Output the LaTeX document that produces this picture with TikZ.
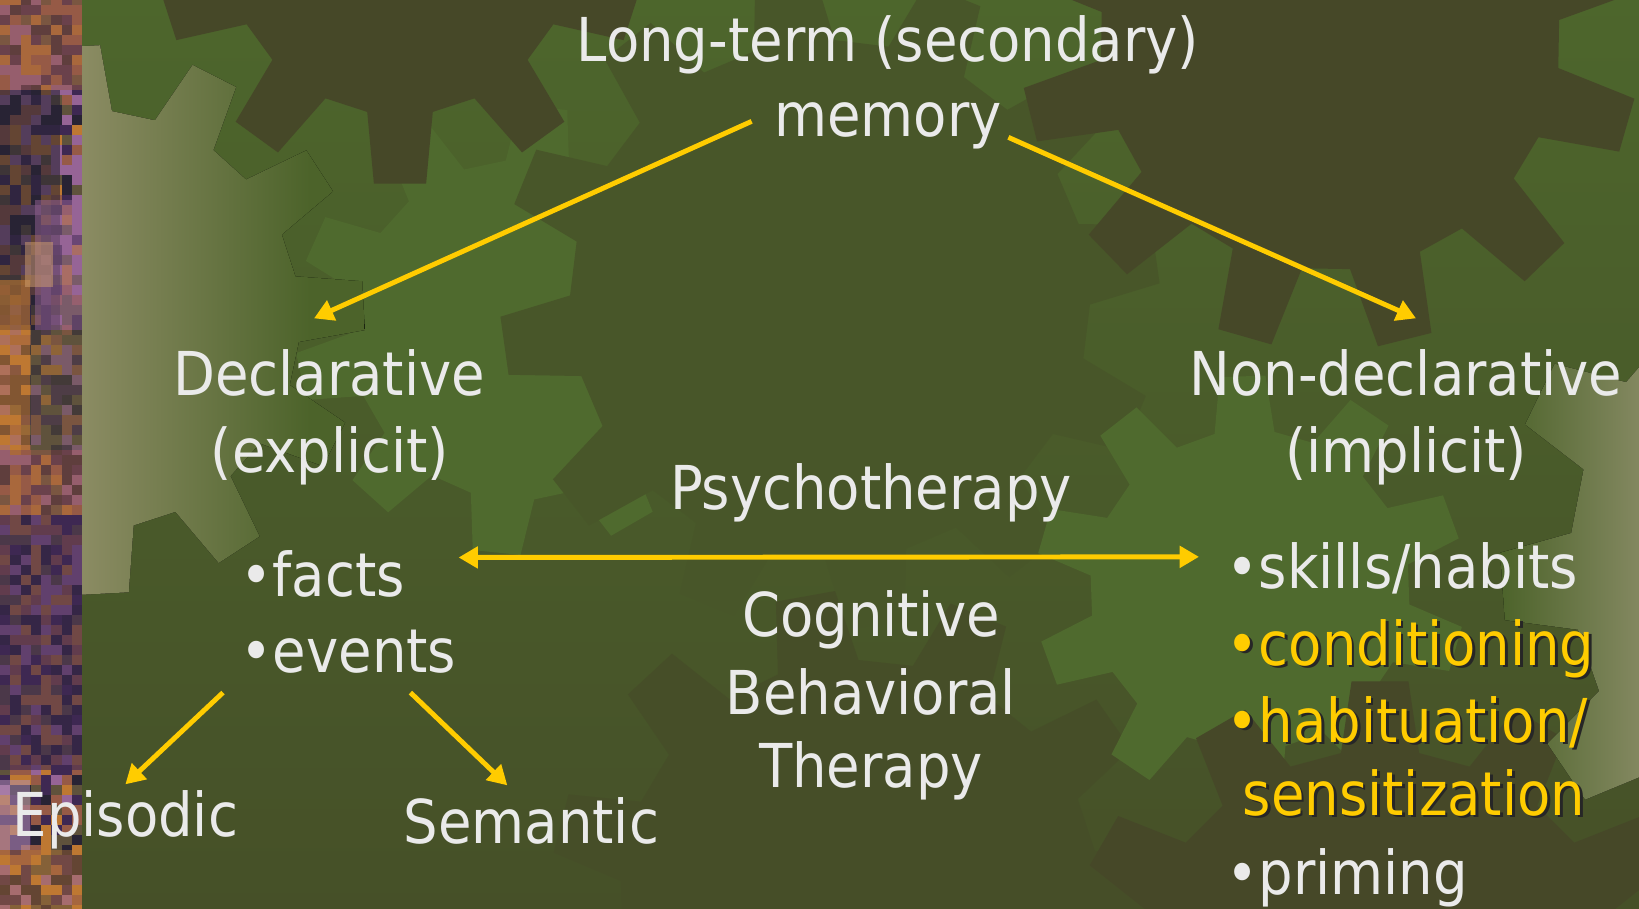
\documentclass[tikz,border=0pt]{standalone}
\usepackage{fontspec}
\setmainfont{DejaVu Sans Condensed}
\usepackage{tikz}
\usetikzlibrary{calc,arrows.meta}
\definecolor{bgtop}{RGB}{77,102,44}
\definecolor{bggreen}{RGB}{76,99,42}
\definecolor{bgbot}{RGB}{70,80,40}
\definecolor{geardark}{RGB}{70,72,40}
\definecolor{gearmid}{RGB}{72,86,41}
\definecolor{gearlow}{RGB}{70,78,40}
\definecolor{gearlight}{RGB}{79,106,46}
\definecolor{gearpale}{RGB}{140,140,100}
\definecolor{gearpaler}{RGB}{130,135,95}
\definecolor{txtwhite}{RGB}{234,234,234}
\definecolor{txtyellow}{RGB}{255,204,0}
\definecolor{strip1}{RGB}{150,90,70}
\definecolor{strip2}{RGB}{62,40,82}
\definecolor{strip3}{RGB}{150,100,150}
\definecolor{strip4}{RGB}{190,120,50}
\definecolor{strip5}{RGB}{95,82,60}
\definecolor{strip6}{RGB}{40,35,52}
\pgfdeclarehorizontalshading{paleleft}{100bp}{color(0bp)=(gearpale); color(49bp)=(gearpale); color(70bp)=(bggreen); color(100bp)=(bggreen)}
\pgfdeclarehorizontalshading{paleright}{100bp}{color(0bp)=(bggreen); color(25bp)=(bggreen); color(34bp)=(gearpaler); color(100bp)=(gearpaler)}
\def\gear[#1](#2)(#3:#4:#5:#6){%
  \begin{scope}[shift={(#2)}, rotate=#6]
    \pgfmathsetmacro\gstep{360/#5}
    \fill[#1] (-0.3*\gstep:#3) \foreach \t in {1,...,#5}{
        -- ({(\t-1)*\gstep-0.3*\gstep}:#3) -- ({(\t-1)*\gstep-0.17*\gstep}:#4)
        -- ({(\t-1)*\gstep+0.17*\gstep}:#4) -- ({(\t-1)*\gstep+0.3*\gstep}:#3)
        -- ({(\t-1)*\gstep+0.7*\gstep}:#3)} -- cycle;
  \end{scope}}
\def\yshadow#1{\rlap{\raisebox{-0.8pt}{\hspace{0.8pt}\color{black!85}#1}}#1}
\tikzset{
  >={Triangle[length=5.5pt,width=6pt]},
  lbl/.style={text=txtwhite, font=\fontsize{17.2}{20}\selectfont, inner sep=0pt},
  ylbl/.style={lbl, text=txtyellow},
  link/.style={draw=txtyellow, line width=1.4pt, ->}
}
\begin{document}
\begin{tikzpicture}[x=0.01cm, y=-0.01cm]
		%%%%% BACKGROUND %%%%%
		\useasboundingbox (0,0) rectangle (1639,908);
		\clip (-5,-5) rectangle (1644,913);
		\fill[top color=bgtop, bottom color=bgbot] (-5,-5) rectangle (1644,913);
		
		\gear[gearlight](520,330)(170:225:10:12);
		\gear[gearmid](830,300)(260:330:12:8);
		\gear[gearlow](860,900)(240:310:11:2);
		\gear[gearlight](1250,590)(160:215:10:20);
		\gear[geardark](400,-60)(175:245:10:18);
		\gear[geardark](1330,40)(230:310:12:14);
		\gear[geardark](1380,1000)(250:320:12:0);
		\gear[shade, shading=paleleft](90,320)(210:275:12:3);
		\gear[shade, shading=paleright](1880,560)(310:380:12:4);
		
		% noisy photo strip
		\pgfmathsetseed{11}
		\foreach \row in {0,...,91}{
			\foreach \col in {0,...,7}{
				\pgfmathrandominteger{\k}{1}{6}
				\fill[strip\k] (\col*10.25, \row*10-5) rectangle ++(10.25,10);
			}
		}
		\fill[strip1, opacity=0.5] (0,-5) rectangle (82,90);
		\fill[strip6, opacity=0.6] (0,90) rectangle (60,330);
		\fill[strip3, opacity=0.5] (35,200) rectangle (82,330);
		\fill[strip4, opacity=0.6] (0,280) rectangle (30,450);
		\fill[strip4!70!white, opacity=0.5] (25,242) rectangle (53,287);
		\fill[strip5, opacity=0.5] (30,330) rectangle (82,450);
		\fill[strip1, opacity=0.5] (0,450) rectangle (82,515);
		\fill[strip2, opacity=0.6] (0,515) rectangle (82,770);
		\fill[strip3!70!white, opacity=0.5] (0,780) rectangle (30,850);
		\fill[strip4, opacity=0.4] (0,850) rectangle (82,913);
		
		%%%%% TEXT %%%%%
		\node[lbl] (ltm) at (888,61) [anchor=base] {Long-term (secondary)};
		\node[lbl] (mem) at (888,136) [anchor=base] {memory};
		
		\node[lbl] (decl) at (329,395) [anchor=base] {Declarative};
		\node[lbl] (expl) at (330,472) [anchor=base] {(explicit)};
		\node[lbl] (ndecl) at (1406,395) [anchor=base] {Non-declarative};
		\node[lbl] (impl) at (1406,472) [anchor=base] {(implicit)};
		
		\node[lbl] (psy) at (871,509) [anchor=base] {Psychotherapy};
		\node[lbl] (cog) at (871,636) [anchor=base] {Cognitive};
		\node[lbl] (beh) at (871,714) [anchor=base] {Behavioral};
		\node[lbl] (ther) at (871,787) [anchor=base] {Therapy};
		
		\node[lbl] (facts) at (240,596) [anchor=base west] {•facts};
		\node[lbl] (events) at (240,672) [anchor=base west] {•events};
		\node[lbl] (epis) at (12,836) [anchor=base west] {Episodic};
		\node[lbl] (sem) at (403,843) [anchor=base west] {Semantic};
		
		\node[lbl] (skills) at (1226,588) [anchor=base west] {•skills/habits};
		\node[ylbl] (cond) at (1226,665) [anchor=base west] {\yshadow{•conditioning}};
		\node[ylbl] (habit) at (1226,742) [anchor=base west] {\yshadow{•habituation/}};
		\node[ylbl] (sens) at (1242,815) [anchor=base west] {\yshadow{sensitization}};
		\node[lbl] (prim) at (1226,894) [anchor=base west] {•priming};
		
		%%%%% ARROWS %%%%%
		\draw[link] ($(mem.west)+(-22,-4)$) -- ($(decl.north)+(-15,-30)$);
		\draw[link] ($(mem.east)+(6,12)$) -- ($(ndecl.north)+(10,-30)$);
		\draw[link, <->] ($(facts.east)+(53,-16)$) -- ($(skills.west)+(-27,-11)$);
		\draw[link] ($(events.south west)+(-17,19)$) -- ($(epis.north)+(0,-5)$);
		\draw[link] ($(events.south)+(62,19)$) -- ($(sem.north)+(-24,-11)$);
\end{tikzpicture}
\end{document}
